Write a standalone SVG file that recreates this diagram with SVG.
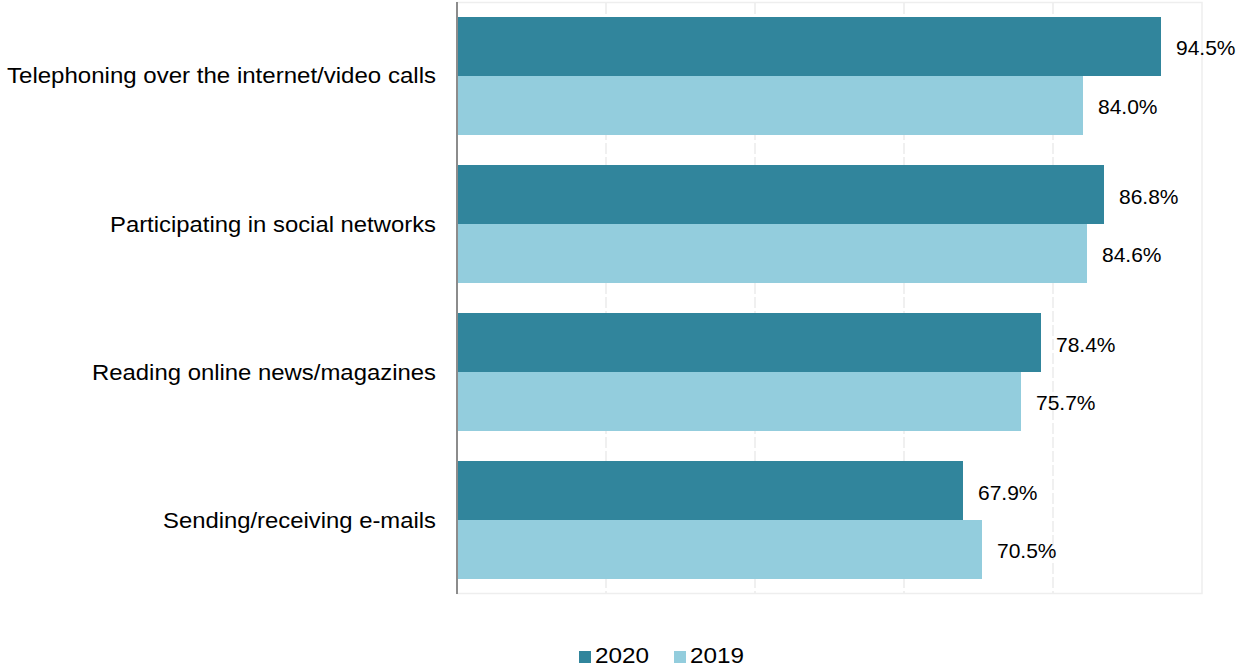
<svg xmlns="http://www.w3.org/2000/svg" width="1238" height="669" viewBox="0 0 1238 669">
<style>
text{font-family:"Liberation Sans",Arial,sans-serif;fill:#000}
.cat{font-size:22px;text-anchor:end}
.val{font-size:21px}
.leg{font-size:22px}
.b20{fill:#31859C}
.b19{fill:#93CDDD}
.grid{stroke:#EBEBEB;stroke-width:1.5;stroke-dasharray:11,3;fill:none}
</style>
<rect width="1238" height="669" fill="#fff"/>
<g id="plot-area">
<rect x="457" y="2.5" width="745" height="591" fill="none" stroke="#EEEEEE" stroke-width="1.5"/>
<g id="gridlines">
<line class="grid" x1="606" y1="3" x2="606" y2="593"/>
<line class="grid" x1="755" y1="3" x2="755" y2="593"/>
<line class="grid" x1="904" y1="3" x2="904" y2="593"/>
<line class="grid" x1="1053" y1="3" x2="1053" y2="593"/>
</g>
</g>
<g id="bars">
<g id="cat-telephoning">
<rect class="b20" x="457" y="17" width="704" height="59"/>
<rect class="b19" x="457" y="76" width="626" height="59"/>
<text class="val" x="1176" y="55">94.5%</text>
<text class="val" x="1098" y="114">84.0%</text>
<text class="cat" x="436" y="83" textLength="429" lengthAdjust="spacingAndGlyphs">Telephoning over the internet/video calls</text>
</g>
<g id="cat-social">
<rect class="b20" x="457" y="165" width="647" height="59"/>
<rect class="b19" x="457" y="224" width="630" height="59"/>
<text class="val" x="1119" y="204">86.8%</text>
<text class="val" x="1102" y="262">84.6%</text>
<text class="cat" x="436" y="231.5" textLength="326" lengthAdjust="spacingAndGlyphs">Participating in social networks</text>
</g>
<g id="cat-news">
<rect class="b20" x="457" y="313" width="584" height="59"/>
<rect class="b19" x="457" y="372" width="564" height="59"/>
<text class="val" x="1056" y="352">78.4%</text>
<text class="val" x="1036" y="410">75.7%</text>
<text class="cat" x="436" y="379.5" textLength="344" lengthAdjust="spacingAndGlyphs">Reading online news/magazines</text>
</g>
<g id="cat-email">
<rect class="b20" x="457" y="461" width="506" height="59"/>
<rect class="b19" x="457" y="520" width="525" height="59"/>
<text class="val" x="978" y="500">67.9%</text>
<text class="val" x="997" y="558">70.5%</text>
<text class="cat" x="436" y="527.5" textLength="273" lengthAdjust="spacingAndGlyphs">Sending/receiving e-mails</text>
</g>
</g>
<g id="axis">
<line x1="457" y1="2" x2="457" y2="594" stroke="#8C8C8C" stroke-width="2"/>
</g>
<g id="legend">
<rect class="b20" x="579" y="651" width="12" height="12"/>
<text class="leg" x="595" y="663" textLength="54" lengthAdjust="spacingAndGlyphs">2020</text>
<rect class="b19" x="674" y="651" width="12" height="12"/>
<text class="leg" x="690" y="663" textLength="54" lengthAdjust="spacingAndGlyphs">2019</text>
</g>
</svg>
